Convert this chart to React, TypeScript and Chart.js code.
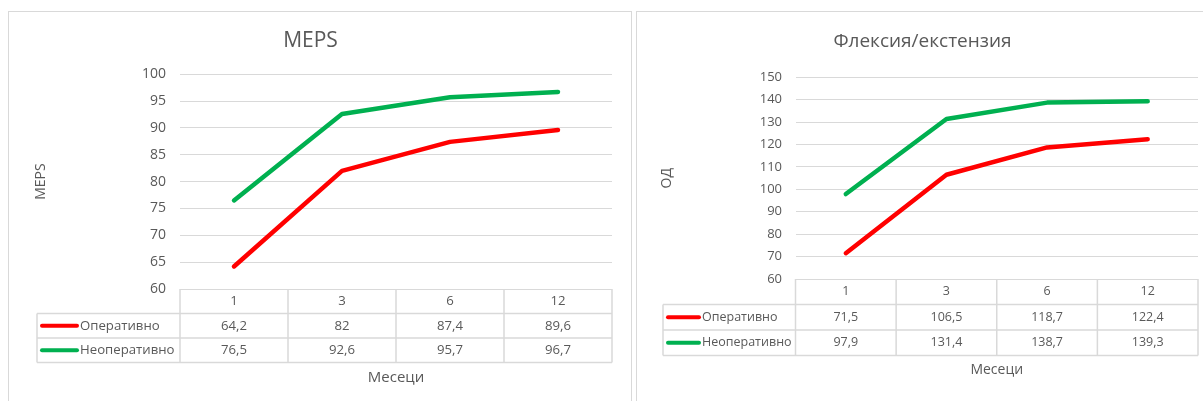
import React, { useEffect, useRef } from 'react';
import { Chart, registerables } from 'chart.js';

Chart.register(...registerables);

// Follow-up months and the two treatment groups
const months = ['1', '3', '6', '12'];
const seriesNames = ['Оперативно', 'Неоперативно'];

// MEPS score per month
const mepsOperative = [64.2, 82, 87.4, 89.6];
const mepsNonOperative = [76.5, 92.6, 95.7, 96.7];

// Flexion/extension range (degrees) per month
const flexOperative = [71.5, 106.5, 118.7, 122.4];
const flexNonOperative = [97.9, 131.4, 138.7, 139.3];

// Value-axis ranges
const mepsAxis = [60, 100, 5];
const flexAxis = [60, 150, 10];

const FONT = "'Open Sans', 'Noto Sans', sans-serif";
const TEXT = '#595959';
const GRID = '#d9d9d9';
const RED = '#ff0000';
const GREEN = '#00b050';

const fmt = (v: number) => String(v).replace('.', ',');

// Draws the data table (month header, legend keys and values) under the plot area
const dataTablePlugin = {
  id: 'dataTable',
  afterDraw(chart: any, _args: any, opts: any) {
    const { ctx, chartArea, scales } = chart;
    const xs = scales.x;
    const labels: string[] = chart.data.labels;
    const n = labels.length;
    const colW = (chartArea.right - chartArea.left) / n;
    const rowH: number = opts.rowHeight;
    const top = chartArea.bottom;
    const legendLeft: number = opts.legendLeft;
    const rows = chart.data.datasets.length;
    const bottom = top + (rows + 1) * rowH;

    ctx.save();
    ctx.strokeStyle = GRID;
    ctx.lineWidth = 1.5;
    ctx.beginPath();
    // horizontal rules
    for (let r = 1; r <= rows + 1; r++) {
      const y = top + r * rowH;
      ctx.moveTo(legendLeft, y);
      ctx.lineTo(chartArea.right, y);
    }
    // column separators
    for (let i = 0; i <= n; i++) {
      const x = i < n ? xs.getPixelForValue(i) - colW / 2 : xs.getPixelForValue(n - 1) + colW / 2;
      ctx.moveTo(x, top);
      ctx.lineTo(x, bottom);
    }
    ctx.moveTo(legendLeft, top + rowH);
    ctx.lineTo(legendLeft, bottom);
    ctx.stroke();

    ctx.fillStyle = TEXT;
    ctx.font = `${opts.fontSize}px ${FONT}`;
    ctx.textBaseline = 'middle';
    ctx.textAlign = 'center';
    labels.forEach((lab, i) => {
      ctx.fillText(lab, xs.getPixelForValue(i), top + rowH / 2);
    });

    chart.data.datasets.forEach((ds: any, r: number) => {
      const cy = top + (r + 1.5) * rowH;
      ctx.textAlign = 'center';
      ctx.fillStyle = TEXT;
      ds.data.forEach((v: number, i: number) => {
        ctx.fillText(fmt(v), xs.getPixelForValue(i), cy);
      });
      // legend key
      ctx.strokeStyle = ds.borderColor;
      ctx.lineWidth = 4;
      ctx.lineCap = 'round';
      ctx.beginPath();
      ctx.moveTo(legendLeft + 5, cy);
      ctx.lineTo(legendLeft + opts.keyLen, cy);
      ctx.stroke();
      ctx.textAlign = 'left';
      ctx.fillText(ds.label, legendLeft + opts.keyLen + 3, cy);
    });

    // category axis title
    ctx.textAlign = 'center';
    ctx.fillStyle = TEXT;
    ctx.font = `${opts.titleSize}px ${FONT}`;
    ctx.fillText(opts.axisTitle, (chartArea.left + chartArea.right) / 2, bottom + opts.titleGap);
    ctx.restore();
  },
};

type PanelProps = {
  left: number;
  width: number;
  canvasW: number;
  title: string;
  yTitle: string;
  a: number[];
  b: number[];
  axis: number[];
  pad: { left: number; right: number; bottom: number };
  axisWidth: number;
  tickPad: number;
  yTitlePad: number;
  titlePad: { top: number; bottom: number };
  rowH: number;
  legendLeft: number;
  keyLen: number;
  titleSize: number;
  tickSize: number;
  tableSize: number;
  xTitleSize: number;
};

function Panel(p: PanelProps) {
  const ref = useRef<HTMLCanvasElement>(null);
  useEffect(() => {
    if (!ref.current) return;
    const chart = new Chart(ref.current, {
      type: 'line',
      data: {
        labels: months,
        datasets: [
          {
            label: seriesNames[0],
            data: p.a,
            borderColor: RED,
            backgroundColor: RED,
            borderWidth: 4.5,
            pointRadius: 0,
            borderCapStyle: 'round',
            borderJoinStyle: 'round',
            tension: 0,
          },
          {
            label: seriesNames[1],
            data: p.b,
            borderColor: GREEN,
            backgroundColor: GREEN,
            borderWidth: 4.5,
            pointRadius: 0,
            borderCapStyle: 'round',
            borderJoinStyle: 'round',
            tension: 0,
          },
        ],
      },
      options: {
        responsive: false,
        animation: false,
        layout: { padding: { top: 0, left: p.pad.left, right: p.pad.right, bottom: p.pad.bottom } },
        plugins: {
          legend: { display: false },
          tooltip: { enabled: false },
          title: {
            display: true,
            text: p.title,
            color: TEXT,
            font: { family: FONT, size: p.titleSize, weight: 'normal', lineHeight: 1.2 },
            padding: p.titlePad,
          },
          dataTable: {
            rowHeight: p.rowH,
            legendLeft: p.legendLeft,
            keyLen: p.keyLen,
            fontSize: p.tableSize,
            titleSize: p.xTitleSize,
            titleGap: 15,
            axisTitle: 'Месеци',
          },
        } as any,
        scales: {
          x: { type: 'category', display: false, offset: true },
          y: {
            min: p.axis[0],
            max: p.axis[1],
            ticks: {
              stepSize: p.axis[2],
              color: TEXT,
              padding: p.tickPad,
              font: { family: FONT, size: p.tickSize },
            },
            grid: { color: GRID, lineWidth: 1, drawTicks: false },
            border: { display: false },
            title: {
              display: true,
              text: p.yTitle,
              color: TEXT,
              font: { family: FONT, size: 14 },
              padding: { top: p.yTitlePad, bottom: 0 },
            },
            afterFit: (scale: any) => {
              scale.width = p.axisWidth;
            },
          },
        },
      },
      plugins: [dataTablePlugin],
    } as any);
    return () => chart.destroy();
  }, []);

  return (
    <div
      style={{
        position: 'absolute',
        left: p.left,
        top: 11,
        width: p.width,
        height: 420,
        boxSizing: 'border-box',
        border: `1px solid ${GRID}`,
        background: '#fff',
      }}
    >
      <canvas ref={ref} width={p.canvasW} height={389} style={{ display: 'block' }} />
    </div>
  );
}

export default function App() {
  return (
    <div style={{ position: 'fixed', inset: 0, overflow: 'hidden', background: '#fff' }}>
      <Panel
        left={8}
        width={624}
        canvasW={622}
        title="MEPS"
        yTitle="MEPS"
        a={mepsOperative}
        b={mepsNonOperative}
        axis={mepsAxis}
        pad={{ left: 0, right: 19, bottom: 112 }}
        axisWidth={171}
        tickPad={14}
        yTitlePad={24}
        titlePad={{ top: 16, bottom: 21 }}
        rowH={24.5}
        legendLeft={28}
        keyLen={40}
        titleSize={21}
        tickSize={14}
        tableSize={13.2}
        xTitleSize={15}
      />
      <Panel
        left={636}
        width={580}
        canvasW={566}
        title="Флексия/екстензия"
        yTitle="ОД"
        a={flexOperative}
        b={flexNonOperative}
        axis={flexAxis}
        pad={{ left: 10, right: 5, bottom: 122 }}
        axisWidth={148.5}
        tickPad={13.5}
        yTitlePad={12}
        titlePad={{ top: 18.5, bottom: 24 }}
        rowH={25.5}
        legendLeft={26}
        keyLen={36}
        titleSize={19}
        tickSize={13}
        tableSize={12.5}
        xTitleSize={14}
      />
    </div>
  );
}
